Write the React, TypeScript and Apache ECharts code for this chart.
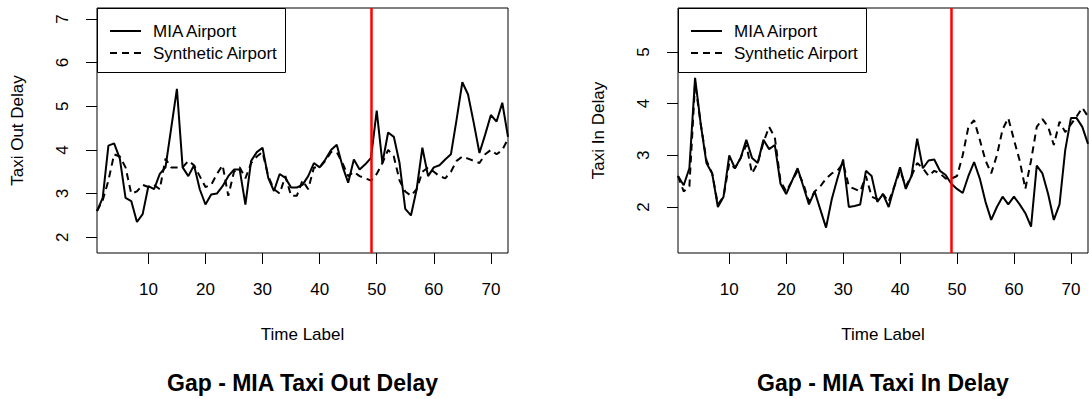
import React, { useEffect, useRef } from "react";
import * as echarts from "echarts";

// Time labels 1..73
const timeLabels: number[] = [
  1, 2, 3, 4, 5, 6, 7, 8, 9, 10, 11, 12, 13, 14, 15, 16, 17, 18, 19, 20,
  21, 22, 23, 24, 25, 26, 27, 28, 29, 30, 31, 32, 33, 34, 35, 36, 37, 38, 39, 40,
  41, 42, 43, 44, 45, 46, 47, 48, 49, 50, 51, 52, 53, 54, 55, 56, 57, 58, 59, 60,
  61, 62, 63, 64, 65, 66, 67, 68, 69, 70, 71, 72, 73,
];

const outMIA: number[] = [
  2.6, 2.9, 4.1, 4.15, 3.8, 2.9, 2.83, 2.35, 2.53, 3.17,
  3.1, 3.45, 3.6, 4.5, 5.4, 3.6, 3.4, 3.65, 3.1, 2.75,
  2.98, 3.0, 3.17, 3.4, 3.55, 3.55, 2.75, 3.75, 3.95, 4.05,
  3.36, 3.06, 3.45, 3.36, 3.14, 3.14, 3.2, 3.4, 3.7, 3.6,
  3.78, 4.0, 4.12, 3.63, 3.25, 3.78, 3.55, 3.67, 3.82, 4.9,
  3.7, 4.4, 4.3, 3.7, 2.65, 2.5, 3.1, 4.05, 3.4, 3.6,
  3.65, 3.78, 3.9, 4.7, 5.55, 5.27, 4.62, 3.93, 4.35, 4.8,
  4.65, 5.08, 4.3,
];

const outSynthetic: number[] = [
  2.6, 2.85, 3.3, 3.9, 3.85, 3.6, 3.0, 3.05, 3.2, 3.15,
  3.2, 3.1, 3.8, 3.6, 3.6, 3.6, 3.75, 3.65, 3.4, 3.15,
  3.2, 3.45, 3.65, 2.95, 3.5, 3.6, 3.35, 3.7, 3.85, 3.95,
  3.4, 3.1, 3.0, 3.4, 2.95, 2.95, 3.3, 3.1, 3.6, 3.6,
  3.75, 3.95, 3.95, 3.7, 3.4, 3.5, 3.4, 3.35, 3.3, 3.45,
  3.7, 4.0, 3.85, 3.3, 3.05, 2.95, 3.1, 3.5, 3.6, 3.5,
  3.4, 3.35, 3.5, 3.75, 3.85, 3.8, 3.75, 3.7, 3.9, 4.0,
  3.9, 4.0, 4.25,
];

const inMIA: number[] = [
  2.6, 2.42, 2.75, 4.5, 3.6, 2.85, 2.65, 2.0, 2.2, 3.0,
  2.75, 2.95, 3.3, 2.95, 2.85, 3.3, 3.12, 3.2, 2.45, 2.25,
  2.5, 2.75, 2.4, 2.05, 2.3, 1.95, 1.6, 2.15, 2.55, 2.92,
  2.0, 2.02, 2.05, 2.7, 2.6, 2.1, 2.25, 2.0, 2.4, 2.77,
  2.35, 2.6, 3.32, 2.75, 2.9, 2.92, 2.7, 2.62, 2.45, 2.35,
  2.27, 2.6, 2.87, 2.55, 2.1, 1.75, 2.0, 2.2, 2.05, 2.2,
  2.05, 1.88, 1.62, 2.8, 2.65, 2.25, 1.75, 2.05, 3.1, 3.72,
  3.72, 3.55, 3.22,
];

const inSynthetic: number[] = [
  2.6, 2.3, 2.4, 4.4, 3.6, 2.9, 2.65, 2.05, 2.2, 2.85,
  2.75, 2.95, 3.2, 2.65, 2.85, 3.25, 3.55, 3.35, 2.5, 2.3,
  2.5, 2.7, 2.45, 2.1, 2.3, 2.4, 2.55, 2.65, 2.7, 2.85,
  2.4, 2.35, 2.3, 2.6, 2.2, 2.15, 2.25, 2.1, 2.4, 2.7,
  2.4, 2.6, 2.85, 2.75, 2.6, 2.7, 2.65, 2.55, 2.55, 2.6,
  3.0, 3.55, 3.68, 3.3, 2.9, 2.65, 3.0, 3.5, 3.72, 3.3,
  2.9, 2.35, 2.9, 3.55, 3.7, 3.55, 3.2, 3.65, 3.45, 3.6,
  3.75, 3.92, 3.75,
];

const xTicks: number[] = [10, 20, 30, 40, 50, 60, 70];
const outYTicks: number[] = [2, 3, 4, 5, 6, 7];
const inYTicks: number[] = [2, 3, 4, 5];
const gapTime = 49;
const seriesNames: string[] = ["MIA Airport", "Synthetic Airport"];
const panelTitles: string[] = ["Gap - MIA Taxi Out Delay", "Gap - MIA Taxi In Delay"];
const yTitles: string[] = ["Taxi Out Delay", "Taxi In Delay"];
const xTitle = "Time Label";

const FONT = "'Liberation Sans', Arial, Helvetica, sans-serif";

export default function App() {
  const ref = useRef<HTMLDivElement>(null);

  useEffect(() => {
    if (!ref.current) return;
    const chart = echarts.init(ref.current, null, { renderer: "svg" });

    const pair = (vals: number[]) => vals.map((v, k) => [timeLabels[k], v]);

    const grids = [
      { left: 97, top: 8, width: 411, height: 245 },
      { left: 678, top: 8, width: 410, height: 245 },
    ];
    const yRanges = [
      { min: 1.64, max: 7.25, ticks: outYTicks },
      { min: 1.11, max: 5.85, ticks: inYTicks },
    ];

    const xAxis = grids.map((_, gi) => ({
      type: "value",
      gridIndex: gi,
      min: 1,
      max: 73,
      axisLine: { show: false },
      splitLine: { show: false },
      axisTick: {
        show: true,
        length: 11,
        customValues: xTicks,
        lineStyle: { color: "#000", width: 1 },
      },
      axisLabel: {
        customValues: xTicks,
        fontSize: 17,
        fontFamily: FONT,
        color: "#000",
        margin: 28,
      },
    }));

    const yAxis = yRanges.map((r, gi) => ({
      type: "value",
      gridIndex: gi,
      min: r.min,
      max: r.max,
      axisLine: { show: false },
      splitLine: { show: false },
      axisTick: {
        show: true,
        length: 11,
        customValues: r.ticks,
        lineStyle: { color: "#000", width: 1 },
      },
      axisLabel: {
        customValues: r.ticks,
        rotate: 90,
        fontSize: 17,
        fontFamily: FONT,
        color: "#000",
        margin: 26,
      },
    }));

    const makeSeries = (gi: number, mia: number[], syn: number[]) => [
      {
        name: seriesNames[0],
        type: "line",
        xAxisIndex: gi,
        yAxisIndex: gi,
        data: pair(mia),
        showSymbol: false,
        symbol: "none",
        lineStyle: { color: "#000", width: 2, type: "solid" },
        z: 3,
        markLine: {
          silent: true,
          symbol: ["none", "none"],
          label: { show: false },
          lineStyle: { color: "#ff0000", width: 2.5, type: "solid" },
          data: [{ xAxis: gapTime }],
          z: 5,
        },
      },
      {
        name: seriesNames[1],
        type: "line",
        xAxisIndex: gi,
        yAxisIndex: gi,
        data: pair(syn),
        showSymbol: false,
        symbol: "none",
        lineStyle: { color: "#000", width: 2, type: [7, 5] },
        z: 2,
      },
    ];

    const graphics: any[] = [];
    grids.forEach((g, gi) => {
      const cx = g.left + g.width / 2;
      const lx = g.left;
      graphics.push({
        type: "rect",
        z: 100,
        shape: { x: lx + 0.5, y: 8.5, width: 188, height: 64 },
        style: { fill: "#fff", stroke: "#000", lineWidth: 1 },
      });
      graphics.push({
        type: "line",
        z: 101,
        shape: { x1: lx + 13, y1: 31, x2: lx + 44, y2: 31 },
        style: { stroke: "#000", lineWidth: 2 },
      });
      graphics.push({
        type: "line",
        z: 101,
        shape: { x1: lx + 13, y1: 53, x2: lx + 44, y2: 53 },
        style: { stroke: "#000", lineWidth: 2, lineDash: [7, 5] },
      });
      seriesNames.forEach((nm, k) => {
        graphics.push({
          type: "text",
          z: 101,
          x: lx + 56,
          y: k === 0 ? 31 : 53,
          style: {
            text: nm,
            fill: "#000",
            fontSize: 17,
            fontFamily: FONT,
            align: "left",
            verticalAlign: "middle",
            textAlign: "left",
            textVerticalAlign: "middle",
          },
        });
      });
      graphics.push({
        type: "text",
        x: cx,
        y: 334,
        style: {
          text: xTitle,
          fill: "#000",
          fontSize: 17,
          fontFamily: FONT,
          align: "center",
          verticalAlign: "middle",
          textAlign: "center",
          textVerticalAlign: "middle",
        },
      });
      graphics.push({
        type: "text",
        x: cx,
        y: 383,
        style: {
          text: panelTitles[gi],
          fill: "#000",
          fontSize: 23,
          fontWeight: "bold",
          fontFamily: FONT,
          align: "center",
          verticalAlign: "middle",
          textAlign: "center",
          textVerticalAlign: "middle",
        },
      });
      graphics.push({
        type: "text",
        x: g.left - 80,
        y: g.top + g.height / 2,
        rotation: Math.PI / 2,
        style: {
          text: yTitles[gi],
          fill: "#000",
          fontSize: 17,
          fontFamily: FONT,
          align: "center",
          verticalAlign: "middle",
          textAlign: "center",
          textVerticalAlign: "middle",
        },
      });
    });

    chart.setOption({
      animation: false,
      backgroundColor: "#fff",
      grid: grids.map((g) => ({
        ...g,
        show: true,
        borderColor: "#000",
        borderWidth: 1,
        backgroundColor: "transparent",
        containLabel: false,
      })),
      xAxis,
      yAxis,
      series: [...makeSeries(0, outMIA, outSynthetic), ...makeSeries(1, inMIA, inSynthetic)],
      graphic: graphics,
    });

    return () => chart.dispose();
  }, []);

  return (
    <div
      ref={ref}
      style={{ position: "absolute", left: 0, top: 0, width: 1089, height: 399 }}
    />
  );
}
